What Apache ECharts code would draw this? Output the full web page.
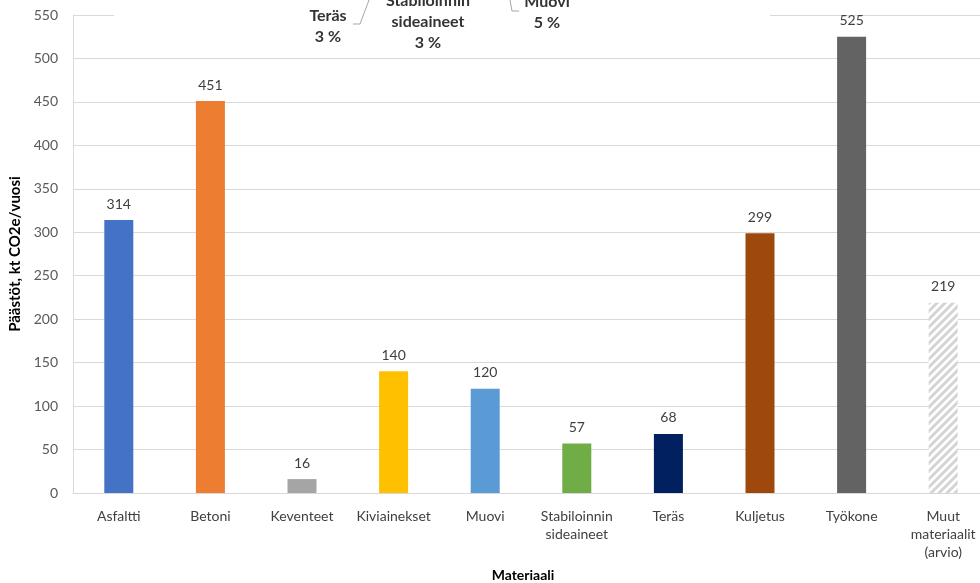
<!DOCTYPE html>
<html>
<head>
<meta charset="utf-8">
<script src="https://cdn.jsdelivr.net/npm/echarts@6/dist/echarts.min.js"></script>
<style>
  html, body { margin: 0; padding: 0; background: #fff; }
  #chart { width: 980px; height: 583px; }
</style>
</head>
<body>
<div id="chart"></div>
<script>
const categories = ['Asfaltti', 'Betoni', 'Keventeet', 'Kiviainekset', 'Muovi',
  'Stabiloinnin\nsideaineet', 'Teräs', 'Kuljetus', 'Työkone', 'Muut\nmateriaalit\n(arvio)'];
const emissions = [314, 451, 16, 140, 120, 57, 68, 299, 525, 219];
const barColors = ['#4472C4', '#ED7D31', '#A5A5A5', '#FFC000', '#5B9BD5',
  '#70AD47', '#002060', '#9E480E', '#636363', 'hatch'];
const yTicks = [0, 550, 50];

// leftover labels of the share pie that sits over the top of the chart
const pieLabels = [
  { text: 'Teräs\n3 %', x: 328, y: 15 },
  { text: 'Stabiloinnin\nsideaineet\n3 %', x: 428, y: 0 },
  { text: 'Muovi\n5 %', x: 547, y: 1 }
];

const font = 'Lato, "Open Sans", sans-serif';

// diagonal stripe fill for the estimated bar
const makeHatch = () => {
  const c = document.createElement('canvas');
  c.width = 8; c.height = 8;
  const ctx = c.getContext('2d');
  ctx.fillStyle = '#fff';
  ctx.fillRect(0, 0, 8, 8);
  ctx.strokeStyle = '#D4D4D4';
  ctx.lineWidth = 3;
  ctx.beginPath();
  ctx.moveTo(-2, 10); ctx.lineTo(10, -2);
  ctx.moveTo(-2, 2); ctx.lineTo(2, -2);
  ctx.moveTo(6, 10); ctx.lineTo(10, 6);
  ctx.stroke();
  return { image: c, repeat: 'repeat' };
};

const chart = echarts.init(document.getElementById('chart'));

const hatch = makeHatch();

const option = {
  animation: false,
  textStyle: { fontFamily: font },
  grid: { left: 73, top: 15, width: 916, height: 478, containLabel: false, outerBoundsMode: 'none' },
  xAxis: {
    type: 'category',
    data: categories,
    name: 'Materiaali',
    nameLocation: 'middle',
    nameGap: 75,
    nameTextStyle: { fontWeight: 'bold', fontSize: 14, color: '#000', padding: [0, 16, 0, 0] },
    axisLine: { lineStyle: { color: '#D9D9D9' } },
    axisTick: { show: false },
    axisLabel: { color: '#404040', fontSize: 14, margin: 14, lineHeight: 18, interval: 0 }
  },
  yAxis: {
    type: 'value',
    min: yTicks[0],
    max: yTicks[1],
    interval: yTicks[2],
    name: 'Päästöt, kt CO2e/vuosi',
    nameLocation: 'middle',
    nameGap: 43,
    nameTextStyle: { fontWeight: 'bold', fontSize: 15, color: '#000' },
    axisLine: { show: true, lineStyle: { color: '#D9D9D9' } },
    axisLabel: { color: '#595959', fontSize: 14, margin: 15 },
    splitLine: { lineStyle: { color: '#D9D9D9' } }
  },
  series: [{
    type: 'bar',
    barWidth: 29,
    data: emissions.map((v, i) => ({
      value: v,
      itemStyle: { color: barColors[i] === 'hatch' ? hatch : barColors[i] }
    })),
    label: {
      show: true,
      position: 'top',
      distance: 9,
      color: '#404040',
      fontSize: 14
    }
  }],
  graphic: [
    {
      type: 'rect',
      z: 100,
      shape: { x: 114, y: 0, width: 656, height: 48 },
      style: { fill: '#fff' }
    },
    {
      type: 'polyline',
      z: 101,
      shape: { points: [[353, 24], [360, 24], [369, 0]] },
      style: { stroke: '#A6A6A6', lineWidth: 1, fill: null }
    },
    {
      type: 'polyline',
      z: 101,
      shape: { points: [[510, 0], [512, 11], [519, 11]] },
      style: { stroke: '#A6A6A6', lineWidth: 1, fill: null }
    }
  ].concat(pieLabels.map(p => ({
    type: 'text',
    z: 101,
    x: p.x,
    // first line center sits at p.y, shift up half a line
    y: p.y - 10,
    style: {
      text: p.text,
      fontFamily: font,
      fontSize: 16,
      fontWeight: 'bold',
      lineHeight: 21,
      fill: '#333',
      align: 'center',
      verticalAlign: 'top'
    }
  })))
};

chart.setOption(option);
</script>
</body>
</html>
